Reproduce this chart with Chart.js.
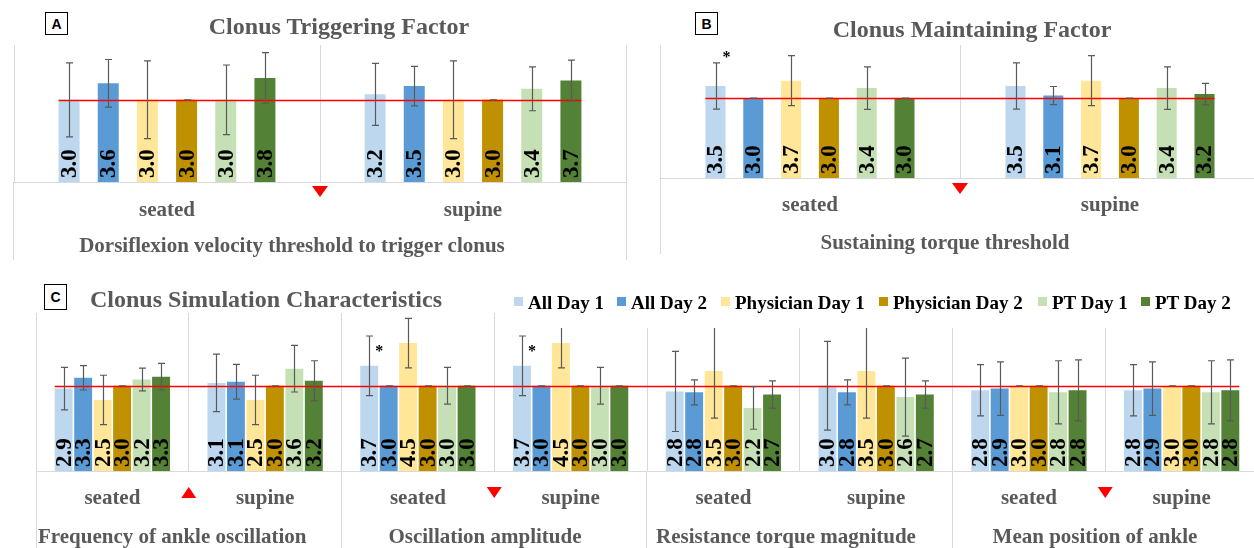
<!DOCTYPE html>
<html><head><meta charset="utf-8">
<script src="https://cdn.jsdelivr.net/npm/chart.js@4.4.1/dist/chart.umd.min.js"></script>
<style>
html,body{margin:0;padding:0;background:#fff;}
body{width:1254px;height:548px;overflow:hidden;position:relative;font-family:"Liberation Serif",serif;}
canvas{position:absolute;}
.t{position:absolute;white-space:nowrap;line-height:1;font-weight:bold;font-family:"Liberation Serif",serif;color:#595959;}
.c{transform:translateX(-50%);}
.box{position:absolute;box-sizing:border-box;border:1.5px solid #000;font:bold 14px "Liberation Sans",sans-serif;display:flex;align-items:center;justify-content:center;color:#000;background:#fff;}
.vl{position:absolute;width:1px;background:#d9d9d9;}
#legend{position:absolute;left:505px;top:285px;width:749px;height:43px;background:#fff;}
.lsq{position:absolute;width:9px;height:9px;}
.ltx{position:absolute;white-space:nowrap;line-height:1;font:bold 19px "Liberation Serif",serif;color:#000;}
</style></head>
<body>
<canvas id="cA" width="640" height="260" style="left:0;top:0"></canvas>
<canvas id="cB" width="640" height="260" style="left:640px;top:0"></canvas>
<canvas id="cC" width="1280" height="268" style="left:0;top:280px"></canvas>

<div class="vl" style="left:13px;top:182px;height:78px"></div>
<div class="vl" style="left:626px;top:182px;height:78px"></div>
<div class="vl" style="left:660px;top:178px;height:76px"></div>
<div class="vl" style="left:36px;top:471px;height:77px"></div>
<div class="vl" style="left:341px;top:471px;height:77px"></div>
<div class="vl" style="left:646px;top:471px;height:77px"></div>
<div class="vl" style="left:952px;top:471px;height:77px"></div>

<div class="box" style="left:45px;top:12px;width:23px;height:23px">A</div>
<div class="box" style="left:695px;top:12px;width:23px;height:23px">B</div>
<div class="box" style="left:44px;top:284px;width:23px;height:26px">C</div>

<div class="t c" style="left:339px;top:14px;font-size:24px">Clonus Triggering Factor</div>
<div class="t c" style="left:972px;top:17px;font-size:24px">Clonus Maintaining Factor</div>
<div class="t" style="left:90px;top:287px;font-size:24px">Clonus Simulation Characteristics</div>

<div class="t c" style="left:292px;top:235px;font-size:21px">Dorsiflexion velocity threshold to trigger clonus</div>
<div class="t c" style="left:945px;top:232px;font-size:21px">Sustaining torque threshold</div>
<div class="t" style="left:38px;top:526px;font-size:21px">Frequency of ankle oscillation</div>
<div class="t c" style="left:485px;top:526px;font-size:21px">Oscillation amplitude</div>
<div class="t c" style="left:786px;top:526px;font-size:21px">Resistance torque magnitude</div>
<div class="t c" style="left:1095px;top:526px;font-size:21px">Mean position of ankle</div>

<div id="legend"></div>

<script>
// ---------- series ----------
const seriesNames = ["All Day 1", "All Day 2", "Physician Day 1", "Physician Day 2", "PT Day 1", "PT Day 2"];
const seriesColors = ["#BDD7EE", "#5B9BD5", "#FFE699", "#BF9000", "#C5E0B4", "#538135"];
const referenceValue = 3.0;

// ---------- Panel A: Clonus Triggering Factor ----------
const trigCategories = ["seated", "supine"];
const trigAllDay1 = [3.0, 3.2];
const trigAllDay2 = [3.6, 3.5];
const trigPhysDay1 = [3.0, 3.0];
const trigPhysDay2 = [3.0, 3.0];
const trigPTDay1 = [3.0, 3.4];
const trigPTDay2 = [3.8, 3.7];
const trigErrAllDay1 = [1.35, 1.13];
const trigErrAllDay2 = [0.87, 0.72];
const trigErrPhysDay1 = [1.42, 1.42];
const trigErrPhysDay2 = [0, 0];
const trigErrPTDay1 = [1.27, 0.80];
const trigErrPTDay2 = [0.92, 0.75];

// ---------- Panel B: Clonus Maintaining Factor ----------
const maintCategories = ["seated", "supine"];
const maintAllDay1 = [3.46, 3.46];
const maintAllDay2 = [3.0, 3.1];
const maintPhysDay1 = [3.66, 3.66];
const maintPhysDay2 = [3.0, 3.0];
const maintPTDay1 = [3.38, 3.38];
const maintPTDay2 = [3.0, 3.16];
const maintErrAllDay1 = [0.87, 0.87];
const maintErrAllDay2 = [0, 0.34];
const maintErrPhysDay1 = [0.94, 0.94];
const maintErrPhysDay2 = [0, 0];
const maintErrPTDay1 = [0.80, 0.80];
const maintErrPTDay2 = [0, 0.40];
const maintSignificant = [[0, 0]]; // [series, category]

// ---------- Panel C: Clonus Simulation Characteristics ----------
const simMeasures = ["Frequency of ankle oscillation", "Oscillation amplitude", "Resistance torque magnitude", "Mean position of ankle"];
const simCategories = ["seated", "supine", "seated", "supine", "seated", "supine", "seated", "supine"];
const simAllDay1 = [2.9, 3.1, 3.7, 3.7, 2.8, 3.0, 2.84, 2.84];
const simAllDay2 = [3.28, 3.14, 3.0, 3.0, 2.77, 2.77, 2.9, 2.9];
const simPhysDay1 = [2.5, 2.5, 4.5, 4.5, 3.52, 3.52, 3.0, 3.0];
const simPhysDay2 = [3.0, 3.0, 3.0, 3.0, 3.0, 3.0, 3.0, 3.0];
const simPTDay1 = [3.22, 3.6, 3.0, 3.0, 2.22, 2.6, 2.77, 2.77];
const simPTDay2 = [3.32, 3.18, 3.0, 3.0, 2.69, 2.69, 2.84, 2.84];
const simErrAllDay1 = [0.75, 1.01, 1.05, 1.05, 1.41, 1.56, 0.90, 0.90];
const simErrAllDay2 = [0.43, 0.61, 0, 0, 0.44, 0.44, 0.94, 0.94];
const simErrPhysDay1 = [0.87, 0.87, 0.87, 0.87, 1.66, 1.66, 0, 0];
const simErrPhysDay2 = [0, 0, 0, 0, 0, 0, 0, 0];
const simErrPTDay1 = [0.40, 0.82, 0.65, 0.65, 0.75, 1.37, 1.11, 1.11];
const simErrPTDay2 = [0.47, 0.70, 0, 0, 0.48, 0.48, 1.07, 1.07];
const simSignificant = [[0, 2], [0, 3]];

// ---------- legend (HTML) ----------
const legendX = [514, 617, 721, 879, 1038, 1141];
const lg = document.getElementById('legend');
seriesNames.forEach((n, i) => {
  const sq = document.createElement('div');
  sq.className = 'lsq';
  sq.style.left = (legendX[i] - 505) + 'px';
  sq.style.top = '12px';
  sq.style.background = seriesColors[i];
  lg.appendChild(sq);
  const tx = document.createElement('div');
  tx.className = 'ltx';
  tx.style.left = (legendX[i] - 505 + 14) + 'px';
  tx.style.top = '7px';
  tx.textContent = n;
  lg.appendChild(tx);
});

// ---------- plugin: reference line, error bars, labels, markers ----------
const extras = {
  id: 'extras',
  afterDatasetsDraw(chart, args, o) {
    const { ctx, chartArea: ca, scales: { x, y } } = chart;
    const metas = chart.data.datasets.map((d, i) => chart.getDatasetMeta(i));
    const first = metas[0].data[0];
    const lm = metas[metas.length - 1];
    const last = lm.data[lm.data.length - 1];
    const yr = Math.round(y.getPixelForValue(o.ref)) + 0.5;
    ctx.save();
    // reference line
    ctx.strokeStyle = '#FF0000';
    ctx.lineWidth = 1.5;
    ctx.beginPath();
    ctx.moveTo(first.x - first.width / 2, yr);
    ctx.lineTo(last.x + last.width / 2, yr);
    ctx.stroke();
    // error bars (clipped)
    ctx.save();
    ctx.beginPath();
    ctx.rect(ca.left, ca.top, ca.right - ca.left, ca.bottom - ca.top);
    ctx.clip();
    ctx.strokeStyle = '#5a5a5a';
    ctx.lineWidth = 1.2;
    metas.forEach((m, di) => {
      m.data.forEach((bar, j) => {
        const v = chart.data.datasets[di].data[j];
        const e = o.errors[di][j];
        const yt = y.getPixelForValue(v + e), yb = y.getPixelForValue(v - e);
        const bx = Math.round(bar.x) + 0.5;
        ctx.beginPath();
        ctx.moveTo(bx, yt); ctx.lineTo(bx, yb);
        ctx.moveTo(bx - 3.5, yt); ctx.lineTo(bx + 3.5, yt);
        ctx.moveTo(bx - 3.5, yb); ctx.lineTo(bx + 3.5, yb);
        ctx.stroke();
      });
    });
    ctx.restore();
    // value labels
    ctx.fillStyle = '#000';
    ctx.font = 'bold 23px "Liberation Serif"';
    ctx.textAlign = 'left';
    ctx.textBaseline = 'middle';
    metas.forEach((m, di) => {
      m.data.forEach((bar, j) => {
        const v = chart.data.datasets[di].data[j];
        ctx.save();
        ctx.translate(bar.x + 1, bar.base - 4);
        ctx.rotate(-Math.PI / 2);
        ctx.fillText(v.toFixed(1), 0, 0);
        ctx.restore();
      });
    });
    // significance stars
    ctx.font = 'bold 16px "Liberation Serif"';
    ctx.textAlign = 'center';
    ctx.textBaseline = 'alphabetic';
    (o.sig || []).forEach(([di, j]) => {
      const bar = metas[di].data[j];
      const v = chart.data.datasets[di].data[j];
      const yt = y.getPixelForValue(v + o.errors[di][j]);
      ctx.fillText('*', bar.x + bar.width / 2 + 1, yt + o.starDy + 8);
    });
    // triangles
    ctx.fillStyle = '#FF0000';
    (o.triangles || []).forEach(t => {
      const cx = x.getPixelForValue(t.at);
      const top = ca.bottom + o.triDy;
      const w = o.triW, h = o.triH;
      ctx.beginPath();
      if (t.dir === 'down') {
        ctx.moveTo(cx - w / 2, top); ctx.lineTo(cx + w / 2, top); ctx.lineTo(cx, top + h);
      } else {
        ctx.moveTo(cx - w / 2, top + h); ctx.lineTo(cx + w / 2, top + h); ctx.lineTo(cx, top);
      }
      ctx.closePath();
      ctx.fill();
    });
    ctx.restore();
  }
};

function makeChart(id, labels, series, errors, cfg) {
  return new Chart(document.getElementById(id), {
    type: 'bar',
    data: {
      labels: labels,
      datasets: series.map((d, i) => ({
        label: seriesNames[i],
        data: d,
        backgroundColor: seriesColors[i],
        borderWidth: 0,
        categoryPercentage: cfg.cp,
        barPercentage: cfg.bp
      }))
    },
    options: {
      responsive: false,
      animation: false,
      events: [],
      layout: { padding: { left: cfg.padL, right: cfg.padR, top: cfg.padT, bottom: 0 } },
      plugins: {
        legend: { display: false },
        tooltip: { enabled: false },
        extras: {
          ref: referenceValue, errors: errors, sig: cfg.sig, starDy: cfg.starDy,
          triangles: cfg.triangles, triDy: cfg.triDy, triW: cfg.triW, triH: cfg.triH
        }
      },
      scales: {
        x: {
          grid: { color: '#d9d9d9', drawTicks: false, offset: true, lineWidth: 1 },
          border: { display: true, color: '#d9d9d9', width: 1 },
          ticks: {
            font: { family: 'Liberation Serif', size: 21, weight: 'bold' },
            color: '#595959', padding: cfg.tickPad, autoSkip: false, maxRotation: 0, minRotation: 0
          },
          afterFit: (s) => { s.height = cfg.axisH; }
        },
        y: { display: false, min: 0, max: cfg.max }
      }
    },
    plugins: [extras]
  });
}

makeChart('cA', trigCategories,
  [trigAllDay1, trigAllDay2, trigPhysDay1, trigPhysDay2, trigPTDay1, trigPTDay2],
  [trigErrAllDay1, trigErrAllDay2, trigErrPhysDay1, trigErrPhysDay2, trigErrPTDay1, trigErrPTDay2],
  { cp: 0.768, bp: 0.536, padL: 14, padR: 14, padT: 45, axisH: 78, max: 5, tickPad: 16,
    sig: [], starDy: 0, triangles: [{ at: 0.5, dir: 'down' }], triDy: 4, triW: 16, triH: 11 });

makeChart('cB', maintCategories,
  [maintAllDay1, maintAllDay2, maintPhysDay1, maintPhysDay2, maintPTDay1, maintPTDay2],
  [maintErrAllDay1, maintErrAllDay2, maintErrPhysDay1, maintErrPhysDay2, maintErrPTDay1, maintErrPTDay2],
  { cp: 0.756, bp: 0.53, padL: 20, padR: 20, padT: 45, axisH: 82, max: 5, tickPad: 15,
    sig: maintSignificant, starDy: -9, triangles: [{ at: 0.5, dir: 'down' }], triDy: 5, triW: 16, triH: 11 });

makeChart('cC', simCategories,
  [simAllDay1, simAllDay2, simPhysDay1, simPhysDay2, simPTDay1, simPTDay2],
  [simErrAllDay1, simErrAllDay2, simErrPhysDay1, simErrPhysDay2, simErrPTDay1, simErrPTDay2],
  { cp: 0.765, bp: 0.92, padL: 36, padR: 22, padT: 33, axisH: 77, max: 5.56, tickPad: 15,
    sig: simSignificant, starDy: 11.5,
    triangles: [{ at: 0.5, dir: 'up' }, { at: 2.5, dir: 'down' }, { at: 6.5, dir: 'down' }],
    triDy: 16, triW: 15, triH: 11 });
</script>
</body></html>
